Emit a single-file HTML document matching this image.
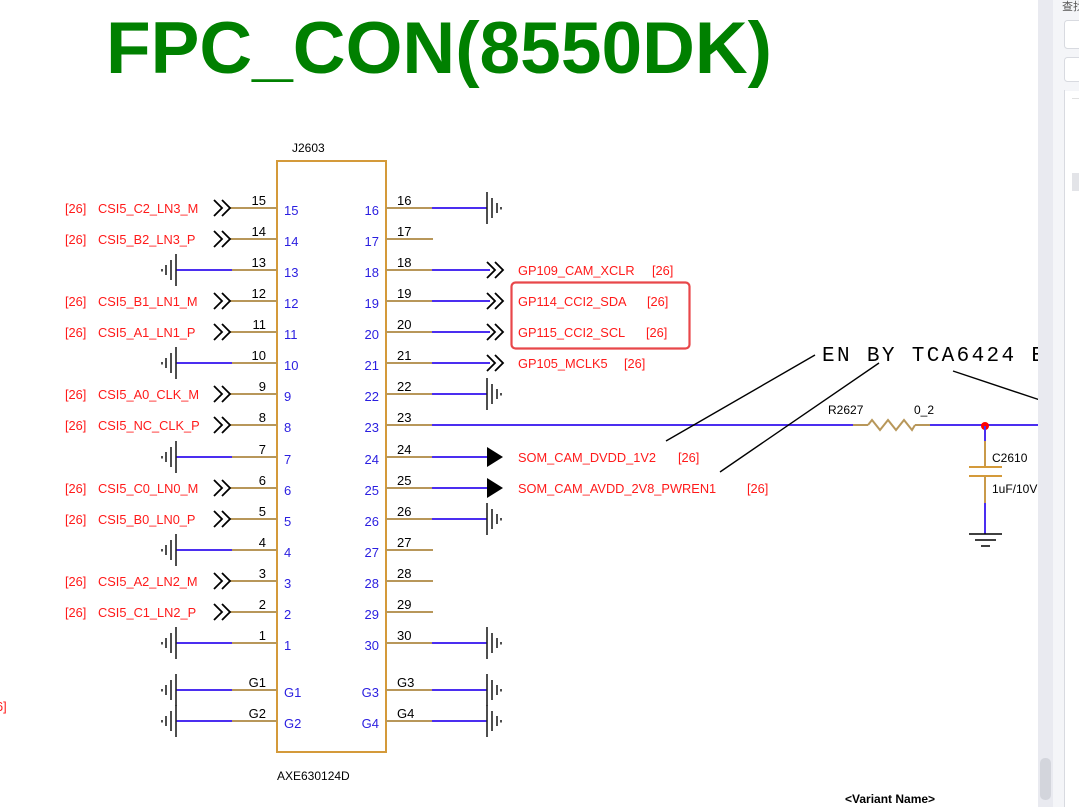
<!DOCTYPE html>
<html><head><meta charset="utf-8"><style>
html,body{margin:0;padding:0;background:#fff;}
svg{display:block;}
text{font-family:"Liberation Sans","Noto Sans CJK SC",sans-serif;}
.n{font-size:13px;fill:#000;}
.b{font-size:13px;fill:#2a1ee0;}
.r{font-size:12.8px;fill:#ff1a1a;}
.k{font-size:12px;fill:#000;}
.tan{stroke:#b8975a;stroke-width:2;}
.blu{stroke:#4b2ef0;stroke-width:2;}
</style></head><body>
<svg width="1079" height="807" viewBox="0 0 1079 807" xmlns="http://www.w3.org/2000/svg">
<defs>
<g id="gl" fill="none" stroke="#222" stroke-width="1.6">
<line x1="176" y1="-16" x2="176" y2="16"/><line x1="171" y1="-10" x2="171" y2="10"/><line x1="166" y1="-5" x2="166" y2="5"/><line x1="162" y1="-1" x2="162" y2="1.5"/>
</g>
<g id="gr" fill="none" stroke="#222" stroke-width="1.6">
<line x1="487" y1="-16" x2="487" y2="16"/><line x1="492" y1="-10" x2="492" y2="10"/><line x1="497" y1="-5" x2="497" y2="5"/><line x1="501" y1="-1" x2="501" y2="1.5"/>
</g>
<g id="cl" fill="none" stroke="#000" stroke-width="1.8">
<polyline points="214,-8 222,0 214,8"/><polyline points="222,-8 230,0 222,8"/>
</g>
<g id="cr" fill="none" stroke="#000" stroke-width="1.8">
<polyline points="487,-8 495,0 487,8"/><polyline points="495,-8 503,0 495,8"/>
</g>
</defs>

<text x="106" y="73" font-size="73" font-weight="bold" fill="#008000" textLength="666" lengthAdjust="spacingAndGlyphs">FPC_CON(8550DK)</text>

<text x="292" y="152" class="k">J2603</text>
<rect x="277" y="161" width="109" height="591" fill="none" stroke="#d49a3a" stroke-width="2"/>
<text x="277" y="780" class="k">AXE630124D</text>

<g>
<g transform="translate(0,208)"><line class="tan" x1="230" y1="0" x2="277" y2="0"/><use href="#cl"/></g>
<g transform="translate(0,239)"><line class="tan" x1="230" y1="0" x2="277" y2="0"/><use href="#cl"/></g>
<g transform="translate(0,301)"><line class="tan" x1="230" y1="0" x2="277" y2="0"/><use href="#cl"/></g>
<g transform="translate(0,332)"><line class="tan" x1="230" y1="0" x2="277" y2="0"/><use href="#cl"/></g>
<g transform="translate(0,394)"><line class="tan" x1="230" y1="0" x2="277" y2="0"/><use href="#cl"/></g>
<g transform="translate(0,425)"><line class="tan" x1="230" y1="0" x2="277" y2="0"/><use href="#cl"/></g>
<g transform="translate(0,488)"><line class="tan" x1="230" y1="0" x2="277" y2="0"/><use href="#cl"/></g>
<g transform="translate(0,519)"><line class="tan" x1="230" y1="0" x2="277" y2="0"/><use href="#cl"/></g>
<g transform="translate(0,581)"><line class="tan" x1="230" y1="0" x2="277" y2="0"/><use href="#cl"/></g>
<g transform="translate(0,612)"><line class="tan" x1="230" y1="0" x2="277" y2="0"/><use href="#cl"/></g>
<g transform="translate(0,270)"><line class="blu" x1="176" y1="0" x2="232" y2="0"/><line class="tan" x1="232" y1="0" x2="277" y2="0"/><use href="#gl"/></g>
<g transform="translate(0,363)"><line class="blu" x1="176" y1="0" x2="232" y2="0"/><line class="tan" x1="232" y1="0" x2="277" y2="0"/><use href="#gl"/></g>
<g transform="translate(0,457)"><line class="blu" x1="176" y1="0" x2="232" y2="0"/><line class="tan" x1="232" y1="0" x2="277" y2="0"/><use href="#gl"/></g>
<g transform="translate(0,550)"><line class="blu" x1="176" y1="0" x2="232" y2="0"/><line class="tan" x1="232" y1="0" x2="277" y2="0"/><use href="#gl"/></g>
<g transform="translate(0,643)"><line class="blu" x1="176" y1="0" x2="232" y2="0"/><line class="tan" x1="232" y1="0" x2="277" y2="0"/><use href="#gl"/></g>
<g transform="translate(0,690)"><line class="blu" x1="176" y1="0" x2="232" y2="0"/><line class="tan" x1="232" y1="0" x2="277" y2="0"/><use href="#gl"/></g>
<g transform="translate(0,721)"><line class="blu" x1="176" y1="0" x2="232" y2="0"/><line class="tan" x1="232" y1="0" x2="277" y2="0"/><use href="#gl"/></g>
</g>

<g class="n" text-anchor="end">
<text x="266" y="205">15</text><text x="266" y="236">14</text><text x="266" y="267">13</text><text x="266" y="298">12</text><text x="266" y="329">11</text><text x="266" y="360">10</text><text x="266" y="391">9</text><text x="266" y="422">8</text><text x="266" y="454">7</text><text x="266" y="485">6</text><text x="266" y="516">5</text><text x="266" y="547">4</text><text x="266" y="578">3</text><text x="266" y="609">2</text><text x="266" y="640">1</text><text x="266" y="687">G1</text><text x="266" y="718">G2</text>
</g>
<g class="b">
<text x="284" y="215">15</text><text x="284" y="246">14</text><text x="284" y="277">13</text><text x="284" y="308">12</text><text x="284" y="339">11</text><text x="284" y="370">10</text><text x="284" y="401">9</text><text x="284" y="432">8</text><text x="284" y="464">7</text><text x="284" y="495">6</text><text x="284" y="526">5</text><text x="284" y="557">4</text><text x="284" y="588">3</text><text x="284" y="619">2</text><text x="284" y="650">1</text><text x="284" y="697">G1</text><text x="284" y="728">G2</text>
</g>
<g class="b" text-anchor="end">
<text x="379" y="215">16</text><text x="379" y="246">17</text><text x="379" y="277">18</text><text x="379" y="308">19</text><text x="379" y="339">20</text><text x="379" y="370">21</text><text x="379" y="401">22</text><text x="379" y="432">23</text><text x="379" y="464">24</text><text x="379" y="495">25</text><text x="379" y="526">26</text><text x="379" y="557">27</text><text x="379" y="588">28</text><text x="379" y="619">29</text><text x="379" y="650">30</text><text x="379" y="697">G3</text><text x="379" y="728">G4</text>
</g>
<g class="n">
<text x="397" y="205">16</text><text x="397" y="236">17</text><text x="397" y="267">18</text><text x="397" y="298">19</text><text x="397" y="329">20</text><text x="397" y="360">21</text><text x="397" y="391">22</text><text x="397" y="422">23</text><text x="397" y="454">24</text><text x="397" y="485">25</text><text x="397" y="516">26</text><text x="397" y="547">27</text><text x="397" y="578">28</text><text x="397" y="609">29</text><text x="397" y="640">30</text><text x="397" y="687">G3</text><text x="397" y="718">G4</text>
</g>

<g class="r">
<text x="65" y="213">[26]</text><text x="98" y="213">CSI5_C2_LN3_M</text>
<text x="65" y="244">[26]</text><text x="98" y="244">CSI5_B2_LN3_P</text>
<text x="65" y="306">[26]</text><text x="98" y="306">CSI5_B1_LN1_M</text>
<text x="65" y="337">[26]</text><text x="98" y="337">CSI5_A1_LN1_P</text>
<text x="65" y="399">[26]</text><text x="98" y="399">CSI5_A0_CLK_M</text>
<text x="65" y="430">[26]</text><text x="98" y="430">CSI5_NC_CLK_P</text>
<text x="65" y="493">[26]</text><text x="98" y="493">CSI5_C0_LN0_M</text>
<text x="65" y="524">[26]</text><text x="98" y="524">CSI5_B0_LN0_P</text>
<text x="65" y="586">[26]</text><text x="98" y="586">CSI5_A2_LN2_M</text>
<text x="65" y="617">[26]</text><text x="98" y="617">CSI5_C1_LN2_P</text>
<text x="-4" y="711">6]</text>
</g>

<g>
<g transform="translate(0,208)"><line class="tan" x1="386" y1="0" x2="432" y2="0"/><line class="blu" x1="432" y1="0" x2="487" y2="0"/><use href="#gr"/></g>
<g transform="translate(0,239)"><line class="tan" x1="386" y1="0" x2="433" y2="0"/></g>
<g transform="translate(0,270)"><line class="tan" x1="386" y1="0" x2="432" y2="0"/><line class="blu" x1="432" y1="0" x2="490" y2="0"/><use href="#cr"/></g>
<g transform="translate(0,301)"><line class="tan" x1="386" y1="0" x2="432" y2="0"/><line class="blu" x1="432" y1="0" x2="490" y2="0"/><use href="#cr"/></g>
<g transform="translate(0,332)"><line class="tan" x1="386" y1="0" x2="432" y2="0"/><line class="blu" x1="432" y1="0" x2="490" y2="0"/><use href="#cr"/></g>
<g transform="translate(0,363)"><line class="tan" x1="386" y1="0" x2="432" y2="0"/><line class="blu" x1="432" y1="0" x2="490" y2="0"/><use href="#cr"/></g>
<g transform="translate(0,394)"><line class="tan" x1="386" y1="0" x2="432" y2="0"/><line class="blu" x1="432" y1="0" x2="487" y2="0"/><use href="#gr"/></g>
<g transform="translate(0,425)"><line class="tan" x1="386" y1="0" x2="432" y2="0"/><line class="blu" x1="432" y1="0" x2="853" y2="0"/></g>
<g transform="translate(0,457)"><line class="tan" x1="386" y1="0" x2="432" y2="0"/><line class="blu" x1="432" y1="0" x2="488" y2="0"/><polygon points="487,-10 503,0 487,10" fill="#000"/></g>
<g transform="translate(0,488)"><line class="tan" x1="386" y1="0" x2="432" y2="0"/><line class="blu" x1="432" y1="0" x2="488" y2="0"/><polygon points="487,-10 503,0 487,10" fill="#000"/></g>
<g transform="translate(0,519)"><line class="tan" x1="386" y1="0" x2="432" y2="0"/><line class="blu" x1="432" y1="0" x2="487" y2="0"/><use href="#gr"/></g>
<g transform="translate(0,550)"><line class="tan" x1="386" y1="0" x2="433" y2="0"/></g>
<g transform="translate(0,581)"><line class="tan" x1="386" y1="0" x2="433" y2="0"/></g>
<g transform="translate(0,612)"><line class="tan" x1="386" y1="0" x2="433" y2="0"/></g>
<g transform="translate(0,643)"><line class="tan" x1="386" y1="0" x2="432" y2="0"/><line class="blu" x1="432" y1="0" x2="487" y2="0"/><use href="#gr"/></g>
<g transform="translate(0,690)"><line class="tan" x1="386" y1="0" x2="432" y2="0"/><line class="blu" x1="432" y1="0" x2="487" y2="0"/><use href="#gr"/></g>
<g transform="translate(0,721)"><line class="tan" x1="386" y1="0" x2="432" y2="0"/><line class="blu" x1="432" y1="0" x2="487" y2="0"/><use href="#gr"/></g>
</g>

<g class="r">
<text x="518" y="275">GP109_CAM_XCLR</text><text x="652" y="275">[26]</text>
<text x="518" y="306">GP114_CCI2_SDA</text><text x="647" y="306">[26]</text>
<text x="518" y="337">GP115_CCI2_SCL</text><text x="646" y="337">[26]</text>
<text x="518" y="368">GP105_MCLK5</text><text x="624" y="368">[26]</text>
<text x="518" y="462">SOM_CAM_DVDD_1V2</text><text x="678" y="462">[26]</text>
<text x="518" y="493">SOM_CAM_AVDD_2V8_PWREN1</text><text x="747" y="493">[26]</text>
</g>
<rect x="511.5" y="282.5" width="178" height="66" rx="4" fill="none" stroke="#e8474a" stroke-width="2.2"/>

<text x="822" y="361" font-size="21" fill="#000" style="font-family:'Liberation Mono',monospace" textLength="222" lengthAdjust="spacing">EN BY TCA6424 E</text>
<g stroke="#000" stroke-width="1.4">
<line x1="815" y1="355" x2="666" y2="441"/>
<line x1="879" y1="363" x2="720" y2="472"/>
<line x1="953" y1="371" x2="1040" y2="400"/>
</g>

<line class="tan" x1="853" y1="425" x2="868" y2="425"/>
<polyline points="868,425 872,420 880,430 888,420 896,430 904,420 912,430 915,425" fill="none" stroke="#b8975a" stroke-width="2"/>
<line class="tan" x1="915" y1="425" x2="930" y2="425"/>
<line class="blu" x1="930" y1="425" x2="1040" y2="425"/>
<circle cx="985" cy="426" r="4" fill="#ff0000"/>
<text x="828" y="414" class="k">R2627</text>
<text x="914" y="414" class="k">0_2</text>
<line class="blu" x1="985" y1="426" x2="985" y2="441"/>
<line x1="985" y1="441" x2="985" y2="467" stroke="#c99a4a" stroke-width="2"/>
<line x1="969" y1="467" x2="1002" y2="467" stroke="#d49a3a" stroke-width="2"/>
<line x1="969" y1="476" x2="1002" y2="476" stroke="#d49a3a" stroke-width="2"/>
<line x1="985" y1="476" x2="985" y2="503" stroke="#c99a4a" stroke-width="2"/>
<line class="blu" x1="985" y1="503" x2="985" y2="534"/>
<g stroke="#000" stroke-width="1.5"><line x1="969" y1="534" x2="1002" y2="534"/><line x1="975" y1="540" x2="996" y2="540"/><line x1="981" y1="546" x2="990" y2="546"/></g>
<text x="992" y="462" class="k">C2610</text>
<text x="992" y="493" class="k">1uF/10V</text>

<text x="845" y="803" font-size="12" font-weight="bold" fill="#000">&lt;Variant Name&gt;</text>

<rect x="1038" y="0" width="15" height="807" fill="#e9eaf0"/>
<rect x="1040" y="758" width="11" height="42" rx="5" fill="#d3d5dc"/>
<rect x="1053" y="0" width="26" height="807" fill="#f4f5f8"/>
<rect x="1064.5" y="20.5" width="20" height="28" rx="3" fill="#fff" stroke="#d8dae0"/>
<rect x="1064.5" y="57.5" width="20" height="24" rx="3" fill="#fff" stroke="#d8dae0"/>
<line x1="1064.5" y1="90" x2="1064.5" y2="807" stroke="#d8dae0"/>
<rect x="1065" y="91" width="14" height="716" fill="#fff"/>
<line x1="1072" y1="98.5" x2="1079" y2="98.5" stroke="#e0e0e0"/>
<rect x="1072" y="173" width="7" height="18" fill="#e3e4e8"/>
<text x="1062" y="10" font-size="11" fill="#555" style="font-family:'Liberation Sans','Noto Sans CJK SC',sans-serif">查找</text>
</svg>
</body></html>
